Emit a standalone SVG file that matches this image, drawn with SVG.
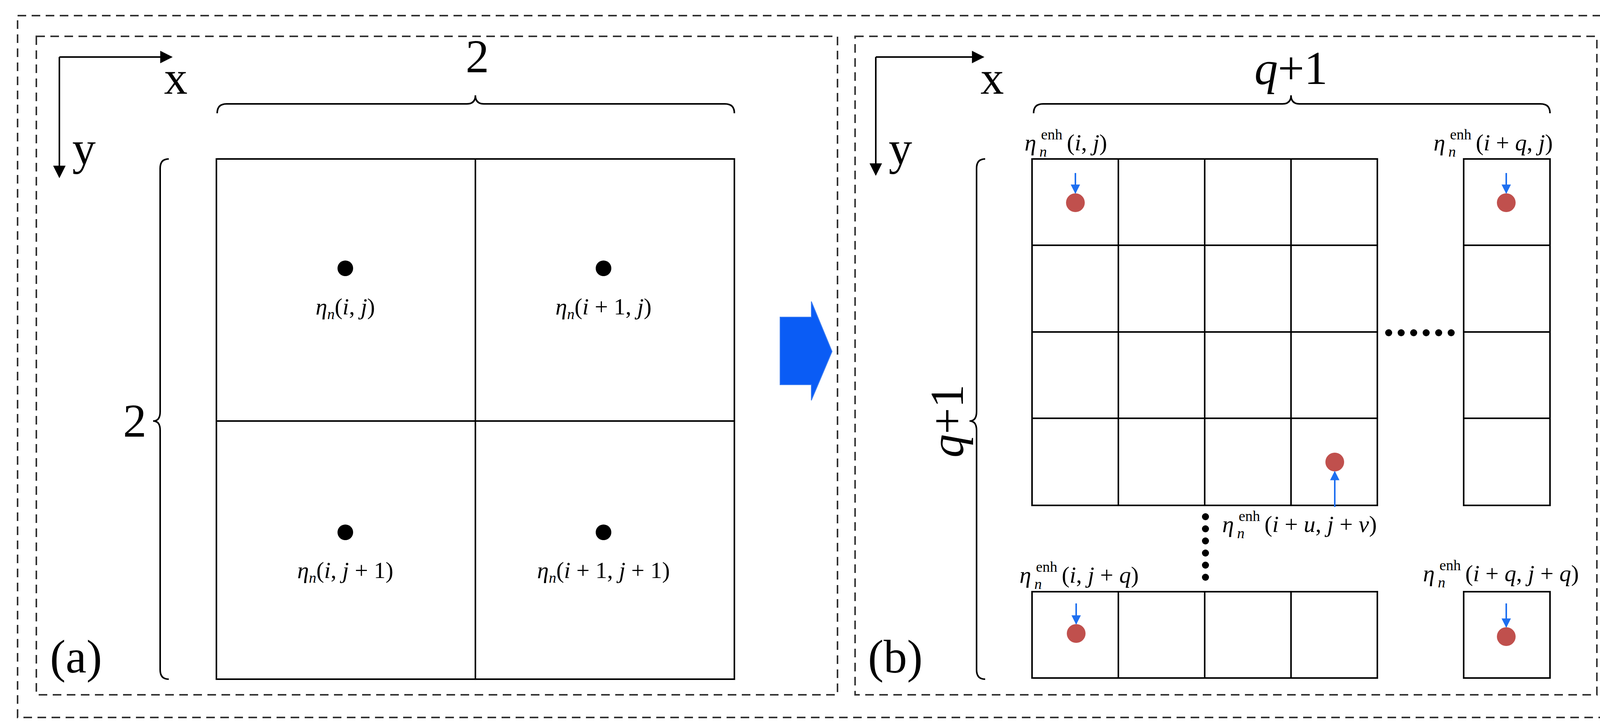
<svg xmlns="http://www.w3.org/2000/svg" width="4176" height="1864" viewBox="0 0 4176 1864">
<style>
.dash{fill:none;stroke:#333;stroke-width:4;stroke-dasharray:22 14}
.ln{fill:none;stroke:#000;stroke-width:4}
.cell{fill:#fff;stroke:#000;stroke-width:4}
.big{font-family:"Liberation Serif",serif;font-size:120px;fill:#000}
.lbl{font-family:"Liberation Serif",serif;font-size:60px;fill:#000}
.it{font-style:italic}
.sm{font-size:38px}
.red{fill:#C0504D}
.blue{stroke:#1E6FF0;stroke-width:4;fill:none}
</style>
<defs>
<marker id="ah" viewBox="0 0 10 10" refX="9" refY="5" markerWidth="8" markerHeight="8" orient="auto"><path d="M0,0 L10,5 L0,10 z" fill="#000"/></marker>
<marker id="bh" viewBox="0 0 10 10" refX="9" refY="5" markerWidth="6" markerHeight="6" orient="auto"><path d="M0,0 L10,5 L0,10 z" fill="#1E6FF0"/></marker>
</defs>
<rect width="4176" height="1864" fill="#fff"/>
<rect class="dash" x="45" y="40" width="4088" height="1797"/>
<rect class="dash" x="93" y="93" width="2051" height="1686"/>
<rect class="dash" x="2189" y="93" width="1899" height="1686"/>

<g id="panel-a">
<path class="ln" d="M152,146 L439,146" marker-end="url(#ah)"/>
<path class="ln" d="M152,146 L152,453" marker-end="url(#ah)"/>
<text class="big" x="420" y="240">x</text>
<text class="big" x="185" y="420">y</text>
<text class="big" x="1222" y="185" text-anchor="middle">2</text>
<path class="ln" d="M556,290 Q556,266 580,266 L1195,266 Q1217,266 1217,244 Q1217,266 1239,266 L1856,266 Q1880,266 1880,290"/>
<path class="ln" d="M432,407 Q410,407 410,431 L410,1054 Q410,1078 392,1078 Q410,1078 410,1102 L410,1715 Q410,1739 432,1739"/>
<text class="big" x="345" y="1118" text-anchor="middle">2</text>
<text class="big" x="128" y="1722">(a)</text>
<rect class="cell" x="554" y="407" width="1326" height="1332"/>
<path class="ln" d="M1217,407 V1739 M554,1078 H1880"/>
<circle cx="884" cy="687" r="20"/><circle cx="1545" cy="687" r="20"/>
<circle cx="884" cy="1363" r="20"/><circle cx="1545" cy="1363" r="20"/>
<text class="lbl" x="884" y="805" text-anchor="middle"><tspan class="it">η</tspan><tspan class="it sm" dy="12">n</tspan><tspan dy="-12">(</tspan><tspan class="it">i</tspan>, <tspan class="it">j</tspan>)</text>
<text class="lbl" x="1545" y="805" text-anchor="middle"><tspan class="it">η</tspan><tspan class="it sm" dy="12">n</tspan><tspan dy="-12">(</tspan><tspan class="it">i</tspan> + 1, <tspan class="it">j</tspan>)</text>
<text class="lbl" x="884" y="1480" text-anchor="middle"><tspan class="it">η</tspan><tspan class="it sm" dy="12">n</tspan><tspan dy="-12">(</tspan><tspan class="it">i</tspan>, <tspan class="it">j</tspan> + 1)</text>
<text class="lbl" x="1545" y="1480" text-anchor="middle"><tspan class="it">η</tspan><tspan class="it sm" dy="12">n</tspan><tspan dy="-12">(</tspan><tspan class="it">i</tspan> + 1, <tspan class="it">j</tspan> + 1)</text>
</g>

<g id="big-arrow">
<polygon points="1997,812 2077,812 2077,772 2130,900 2077,1025 2077,985 1997,985" fill="#0A5CF5" stroke="#3A7BF0" stroke-width="2"/>
</g>

<g id="panel-b">
<path class="ln" d="M2242,146 L2517,146" marker-end="url(#ah)"/>
<path class="ln" d="M2242,146 L2242,447" marker-end="url(#ah)"/>
<text class="big" x="2510" y="240">x</text>
<text class="big" x="2275" y="420">y</text>
<text class="big" x="3305" y="215" text-anchor="middle"><tspan class="it">q</tspan>+1</text>
<path class="ln" d="M2646,290 Q2646,266 2670,266 L3283,266 Q3305,266 3305,244 Q3305,266 3327,266 L3944,266 Q3968,266 3968,290"/>
<path class="ln" d="M2522,407 Q2500,407 2500,431 L2500,1054 Q2500,1078 2482,1078 Q2500,1078 2500,1102 L2500,1715 Q2500,1739 2522,1739"/>
<text class="big" x="2465" y="1078" text-anchor="middle" transform="rotate(-90 2465 1078)"><tspan class="it">q</tspan>+1</text>
<text class="big" x="2222" y="1722">(b)</text>
<g id="grid-main">
<rect class="cell" x="2642" y="407" width="884" height="887"/>
<path class="ln" d="M2863,407 V1294 M3084,407 V1294 M3305,407 V1294 M2642,628 H3526 M2642,850 H3526 M2642,1071 H3526"/>
</g>
<g id="grid-col">
<rect class="cell" x="3747" y="407" width="221" height="887"/>
<path class="ln" d="M3747,628 H3968 M3747,850 H3968 M3747,1071 H3968"/>
</g>
<g id="grid-row">
<rect class="cell" x="2642" y="1515" width="884" height="221"/>
<path class="ln" d="M2863,1515 V1736 M3084,1515 V1736 M3305,1515 V1736"/>
</g>
<rect class="cell" x="3747" y="1515" width="221" height="221"/>
<g id="dots-h"><circle cx="3555" cy="852" r="9"/><circle cx="3587" cy="852" r="9"/><circle cx="3619" cy="852" r="9"/><circle cx="3651" cy="852" r="9"/><circle cx="3683" cy="852" r="9"/><circle cx="3715" cy="852" r="9"/></g>
<g id="dots-v"><circle cx="3086" cy="1323" r="9"/><circle cx="3086" cy="1354" r="9"/><circle cx="3086" cy="1385" r="9"/><circle cx="3086" cy="1416" r="9"/><circle cx="3086" cy="1447" r="9"/><circle cx="3086" cy="1478" r="9"/></g>
<circle class="red" cx="2753" cy="519" r="24"/>
<circle class="red" cx="3856" cy="519" r="24"/>
<circle class="red" cx="3417" cy="1183" r="24"/>
<circle class="red" cx="2755" cy="1622" r="24"/>
<circle class="red" cx="3856" cy="1630" r="24"/>
<g id="connectors">
<path class="blue" d="M2753,443 V494" marker-end="url(#bh)"/>
<path class="blue" d="M3856,443 V494" marker-end="url(#bh)"/>
<path class="blue" d="M3417,1298 V1208" marker-end="url(#bh)"/>
<path class="blue" d="M2755,1545 V1597" marker-end="url(#bh)"/>
<path class="blue" d="M3856,1545 V1605" marker-end="url(#bh)"/>
</g>
<g class="lbl" transform="translate(2623,385)"><text class="lbl it">η</text><text class="lbl sm" x="42" y="-28">enh</text><text class="lbl sm it" x="38" y="16">n</text><text class="lbl" x="108">(<tspan class="it">i</tspan>, <tspan class="it">j</tspan>)</text></g>
<g class="lbl" transform="translate(3670,385)"><text class="lbl it">η</text><text class="lbl sm" x="42" y="-28">enh</text><text class="lbl sm it" x="38" y="16">n</text><text class="lbl" x="108">(<tspan class="it">i</tspan> + <tspan class="it">q</tspan>, <tspan class="it">j</tspan>)</text></g>
<g class="lbl" transform="translate(3129,1362)"><text class="lbl it">η</text><text class="lbl sm" x="42" y="-28">enh</text><text class="lbl sm it" x="38" y="16">n</text><text class="lbl" x="108">(<tspan class="it">i</tspan> + <tspan class="it">u</tspan>, <tspan class="it">j</tspan> + <tspan class="it">v</tspan>)</text></g>
<g class="lbl" transform="translate(2610,1492)"><text class="lbl it">η</text><text class="lbl sm" x="42" y="-28">enh</text><text class="lbl sm it" x="38" y="16">n</text><text class="lbl" x="108">(<tspan class="it">i</tspan>, <tspan class="it">j</tspan> + <tspan class="it">q</tspan>)</text></g>
<g class="lbl" transform="translate(3643,1488)"><text class="lbl it">η</text><text class="lbl sm" x="42" y="-28">enh</text><text class="lbl sm it" x="38" y="16">n</text><text class="lbl" x="108">(<tspan class="it">i</tspan> + <tspan class="it">q</tspan>, <tspan class="it">j</tspan> + <tspan class="it">q</tspan>)</text></g>
</g>
</svg>
